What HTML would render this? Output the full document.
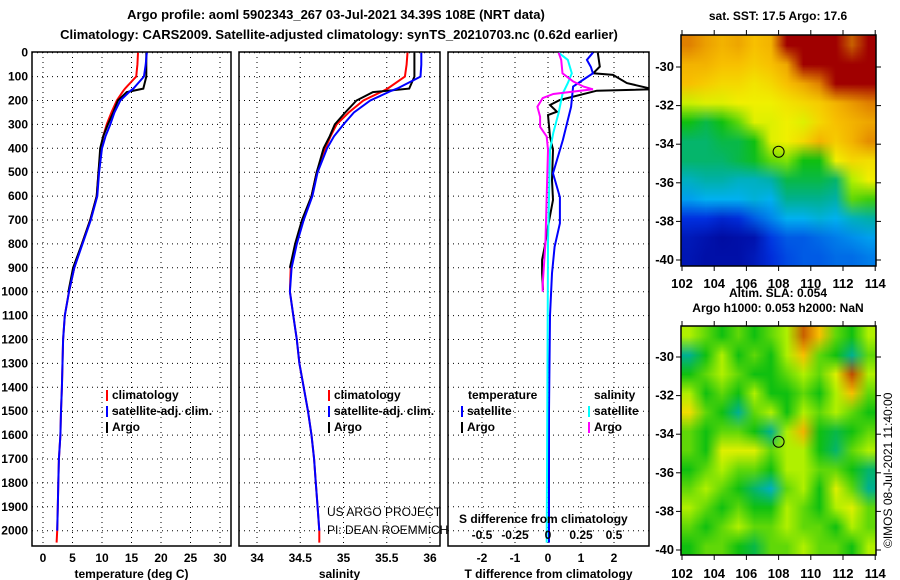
<!DOCTYPE html>
<html><head><meta charset="utf-8"><style>
body{margin:0;background:#fff;width:900px;height:580px;overflow:hidden;font-family:"Liberation Sans",sans-serif}
svg text{font-family:"Liberation Sans",sans-serif;font-weight:bold;font-size:12px;fill:#000}
.map{position:absolute;image-rendering:auto}
</style></head><body>
<canvas id="m1" class="map" width="12" height="12" style="left:681px;top:35px;width:195px;height:231px"></canvas>
<canvas id="m2" class="map" width="12" height="12" style="left:681px;top:326px;width:195px;height:229px"></canvas>
<svg id="s" width="900" height="580" style="position:absolute;left:0;top:0"></svg>
<script>
const depths=[0,50,100,150,160,200,250,300,350,400,500,600,700,800,900,1000,1100,1200,1300,1400,1500,1600,1700,1800,1900,2000,2050];
const tempClim=[16.1,16.0,15.8,13.9,13.6,12.5,11.6,10.8,10.2,9.8,9.4,9.1,8.0,6.6,5.3,4.4,3.7,3.4,3.3,3.2,3.05,2.95,2.7,2.6,2.5,2.4,2.3];
const tempSat=[17.6,17.4,17.1,15.3,14.8,13.1,12.1,11.4,10.6,10.0,9.5,9.2,8.1,6.7,5.3,4.4,3.7,3.4,3.3,3.2,3.05,2.95,2.7,2.6,2.5,2.4,null];
const argoDepths=[0,100,150,165,200,250,300,350,400,500,600,700,800,900,1000];
const tempArgo=[17.5,17.5,17.0,14.2,12.7,11.9,11.0,10.2,9.7,9.4,9.1,8.0,6.6,5.1,4.3];
const salArgo=[35.82,35.82,35.76,35.34,35.15,35.02,34.90,34.84,34.77,34.69,34.63,34.52,34.44,34.38,null];
const salClim=[35.74,35.73,35.71,35.51,35.46,35.23,35.06,34.92,34.85,34.79,34.69,34.63,34.53,34.45,34.39,34.38,34.42,34.46,34.49,34.54,34.59,34.63,34.66,34.68,34.70,34.72,34.72];
const salSat=[35.90,35.90,35.89,35.62,35.55,35.31,35.12,35.00,34.89,34.81,34.70,34.64,34.54,34.46,34.40,34.38,34.42,34.46,34.49,34.54,34.59,34.63,34.66,34.68,34.70,34.72,null];
const dTsatDepth=[0,30,60,86,110,142,226,365,505,604,714,812,923,1100,1500,2050];
const dTsat=[1.36,1.18,1.3,1.36,1.1,0.76,0.7,0.45,0.15,0.36,0.36,0.2,0.12,0.06,0.03,0.03];
const dTargoDepth=[0,58,86,93,127,153,159,198,219,247,261,351,407,533,616,727,812,867,923,993];
const dTargo=[1.51,1.57,1.37,1.97,2.39,3.2,1.48,0.36,0.06,0.27,0,0.06,0.15,0.12,0.15,0,-0.1,-0.18,-0.18,-0.15];
const dSsatDepth=[0,30,86,127,173,252,335,407,800,1500,2050];
const dSsat=[0.08,0.15,0.18,0.15,0.11,0.08,0.04,0.015,0.0,-0.005,-0.01];
const dSargoDepth=[0,30,86,120,142,153,173,190,226,268,310,351,407,600,800,969,1000];
const dSargo=[0.08,0.1,0.11,0.19,0.27,0.34,0.04,-0.04,-0.08,-0.06,-0.06,-0.01,0,-0.01,-0.02,-0.04,-0.04];
const depthTicks=[0,100,200,300,400,500,600,700,800,900,1000,1100,1200,1300,1400,1500,1600,1700,1800,1900,2000];
const tempTicks=[0,5,10,15,20,25,30];
const salTicks=[34,34.5,35,35.5,36];
const dTTicks=[-2,-1,0,1,2];
const dSTicks=[-0.5,-0.25,0,0.25,0.5];
const lonTicks=[102,104,106,108,110,112,114];
const latTicks=[-30,-32,-34,-36,-38,-40];
const sst=[
[.8,.75,.72,.74,.70,.72,1,1,1,1,.9,1],
[.72,.72,.70,.70,.68,.70,.74,1,1,1,1,1],
[.70,.68,.66,.66,.64,.66,.70,.74,.8,1,1,1],
[.58,.6,.6,.62,.62,.62,.64,.66,.68,.72,.76,.8],
[.45,.42,.45,.5,.6,.6,.62,.6,.66,.7,.72,.74],
[.4,.4,.42,.42,.45,.6,.62,.66,.72,.68,.72,.78],
[.4,.4,.4,.42,.44,.5,.52,.45,.45,.62,.66,.65],
[.34,.36,.36,.34,.34,.36,.42,.42,.42,.4,.55,.62],
[.28,.3,.3,.3,.32,.3,.38,.38,.38,.36,.5,.48],
[.15,.15,.12,.14,.2,.25,.3,.3,.32,.3,.34,.36],
[.08,.06,.04,.05,.06,.16,.2,.2,.22,.24,.26,.28],
[.07,.05,.05,.05,.08,.14,.18,.2,.2,.22,.22,.24]];
const sla=[
[.55,.5,.45,.5,.45,.5,.55,.9,.7,.5,.45,.55],
[.38,.45,.55,.45,.5,.45,.55,.7,.5,.45,.38,.5],
[.45,.5,.55,.5,.45,.45,.5,.55,.5,.6,.92,.55],
[.55,.45,.5,.45,.55,.45,.45,.5,.45,.55,.7,.5],
[.65,.5,.45,.38,.5,.55,.45,.55,.5,.55,.5,.45],
[.5,.45,.5,.5,.45,.38,.55,.72,.45,.42,.45,.5],
[.5,.45,.6,.6,.6,.5,.55,.55,.45,.4,.5,.55],
[.45,.5,.55,.5,.5,.45,.55,.55,.5,.5,.45,.4],
[.5,.55,.5,.45,.4,.34,.5,.55,.45,.6,.5,.38],
[.55,.5,.45,.5,.45,.45,.55,.5,.45,.55,.6,.5],
[.5,.45,.5,.55,.5,.5,.55,.5,.5,.45,.55,.5],
[.45,.5,.5,.45,.42,.5,.5,.55,.5,.5,.45,.55]];
const stops=[[0,[0,0,140]],[.15,[0,48,224]],[.3,[0,176,240]],[.38,[0,176,144]],[.45,[16,192,16]],[.55,[176,240,0]],[.62,[240,240,0]],[.7,[248,192,0]],[.8,[224,128,0]],[.9,[200,96,0]],[1,[160,0,0]]];
function cmap(v){for(let i=1;i<stops.length;i++){if(v<=stops[i][0]){const a=stops[i-1],b=stops[i],t=(v-a[0])/(b[0]-a[0]);return 'rgb('+a[1].map((c,k)=>Math.round(c+(b[1][k]-c)*t)).join(',')+')';}}return 'rgb(160,0,0)';}
function drawMap(id,g){const c=document.getElementById(id).getContext('2d');g.forEach((r,y)=>r.forEach((v,x)=>{c.fillStyle=cmap(v);c.fillRect(x,y,1,1);}));}
drawMap('m1',sst);drawMap('m2',sla);

const S=document.getElementById('s');const NS='http://www.w3.org/2000/svg';
function el(t,a,txt){const e=document.createElementNS(NS,t);for(const k in a)e.setAttribute(k,a[k]);if(txt!==undefined)e.textContent=txt;S.appendChild(e);return e;}
const yTop=52,yBot=546;
const yD=d=>52.7+d*0.239;
const panels=[
 {x0:32,x1:231,fx:v=>43+v*5.9,ticks:tempTicks,title:'temperature (deg C)',name:'temperature'},
 {x0:239,x1:440,fx:v=>257+(v-34)*86.5,ticks:salTicks,title:'salinity',name:'salinity'},
 {x0:448,x1:649,fx:v=>548+v*33,ticks:dTTicks,title:'T difference from climatology',name:'difference'}];
const fS=v=>548+v*132;
panels.forEach((p,pi)=>{
 const cp=el('clipPath',{id:'c'+pi});const r=document.createElementNS(NS,'rect');r.setAttribute('x',p.x0);r.setAttribute('y',yTop);r.setAttribute('width',p.x1-p.x0);r.setAttribute('height',yBot-yTop);cp.appendChild(r);
 depthTicks.forEach(d=>{const l=el('line',{x1:p.x0,x2:p.x1,y1:yD(d),y2:yD(d),stroke:'#000','stroke-width':1,'stroke-dasharray':'1,4'});
  });
 p.ticks.forEach(t=>{const x=p.fx(t);const l=el('line',{x1:x,x2:x,y1:yTop,y2:yBot,stroke:'#000','stroke-width':1,'stroke-dasharray':'1,4'});
  
  const tx=el('text',{x:x,y:562,'text-anchor':'middle'},String(t));});
 const tt=el('text',{x:(p.x0+p.x1)/2,y:578,'text-anchor':'middle'},p.title);
 const fr=el('rect',{x:p.x0,y:yTop,width:p.x1-p.x0,height:yBot-yTop,fill:'none',stroke:'#000','stroke-width':1.5});
});
depthTicks.forEach(d=>{const t=el('text',{x:28,y:yD(d)+4,'text-anchor':'end'},String(d));});
function line(ds,vs,f,col,pi,name){let pts=[];ds.forEach((d,i)=>{if(vs[i]!=null)pts.push(f(vs[i]).toFixed(1)+','+yD(d).toFixed(1));});
 const l=el('polyline',{points:pts.join(' '),fill:'none',stroke:col,'stroke-width':2,'clip-path':'url(#c'+pi+')'});}
const fT=panels[0].fx,fSa=panels[1].fx,fdT=panels[2].fx;
line(depths,tempClim,fT,'#f00',0,'temp-climatology-line');
line(argoDepths,tempArgo,fT,'#000',0,'temp-argo-line');
line(depths,tempSat,fT,'#00f',0,'temp-satellite-line');
line(depths,salClim,fSa,'#f00',1,'sal-climatology-line');
line(argoDepths,salArgo,fSa,'#000',1,'sal-argo-line');
line(depths,salSat,fSa,'#00f',1,'sal-satellite-line');
line(dTargoDepth,dTargo,fdT,'#000',2,'dT-argo-line');
line(dTsatDepth,dTsat,fdT,'#00f',2,'dT-satellite-line');
line(dSsatDepth,dSsat,fS,'#0ff',2,'dS-satellite-line');
line(dSargoDepth,dSargo,fS,'#f0f',2,'dS-argo-line');
dSTicks.forEach(t=>{const tx=el('text',{x:fS(t),y:539,'text-anchor':'middle'},String(t));});
const st=el('text',{x:459,y:523},'S difference from climatology');
function leg(x,y,col,label,name){const r=el('rect',{x:x,y:y-9,width:2,height:11,fill:col});
 const t=el('text',{x:x+6,y:y},label);}
leg(106,399,'#f00','climatology','legend-climatology');leg(106,415,'#00f','satellite-adj. clim.','legend-satellite');leg(106,431,'#000','Argo','legend-argo');
leg(328,399,'#f00','climatology','legend-climatology-2');leg(328,415,'#00f','satellite-adj. clim.','legend-satellite-2');leg(328,431,'#000','Argo','legend-argo-2');
let t1=el('text',{x:468,y:399},'temperature');
let t2=el('text',{x:594,y:399},'salinity');
leg(461,415,'#00f','satellite','legend-t-satellite');leg(461,431,'#000','Argo','legend-t-argo');
leg(588,415,'#0ff','satellite','legend-s-satellite');leg(588,431,'#f0f','Argo','legend-s-argo');
let u1=el('text',{x:327,y:516,style:'font-weight:normal'},'US ARGO PROJECT');
let u2=el('text',{x:327,y:534,style:'font-weight:normal'},'PI: DEAN ROEMMICH');
let h1=el('text',{x:336,y:19,'text-anchor':'middle',style:'font-size:13px'},'Argo profile: aoml 5902343_267 03-Jul-2021 34.39S 108E (NRT data)');
let h2=el('text',{x:339,y:39,'text-anchor':'middle',style:'font-size:13px'},'Climatology: CARS2009. Satellite-adjusted climatology: synTS_20210703.nc (0.62d earlier)');
const maps=[{y0:35,y1:266,latY:v=>67+(v+30)*-19.3,lonY:288,title:['sat. SST: 17.5 Argo: 17.6'],ty:[20],name:'sst'},
 {y0:326,y1:555,latY:v=>357+(v+30)*-19.3,lonY:578,title:['Altim. SLA: 0.054','Argo h1000: 0.053 h2000: NaN'],ty:[297,312],name:'sla'}];
const lonX=v=>682+(v-102)*16.1;
maps.forEach(m=>{
 const fr=el('rect',{x:681,y:m.y0,width:195,height:m.y1-m.y0,fill:'none',stroke:'#000','stroke-width':1.5});
 latTicks.forEach(v=>{const y=m.latY(v);el('line',{x1:676,x2:681,y1:y,y2:y,stroke:'#000'});el('line',{x1:876,x2:881,y1:y,y2:y,stroke:'#000'});
  const t=el('text',{x:674,y:y+4,'text-anchor':'end',style:'font-size:13px'},String(v));});
 lonTicks.forEach(v=>{const x=lonX(v);el('line',{x1:x,x2:x,y1:m.y1,y2:m.y1+5,stroke:'#000'});el('line',{x1:x,x2:x,y1:m.y0-5,y2:m.y0,stroke:'#000'});
  const t=el('text',{x:x,y:m.lonY,'text-anchor':'middle',style:'font-size:13px'},String(v));});
 m.title.forEach((s,i)=>{const t=el('text',{x:778,y:m.ty[i],'text-anchor':'middle'},s);});
 const c=el('circle',{cx:lonX(108),cy:m.latY(-34.39),r:5.5,fill:'none',stroke:'#000','stroke-width':1});
});
let dt=el('text',{x:892,y:548,transform:'rotate(-90 892 548)',style:'font-weight:normal;font-size:12px'},'©IMOS 08-Jul-2021 11:40:00');
</script></body></html>
